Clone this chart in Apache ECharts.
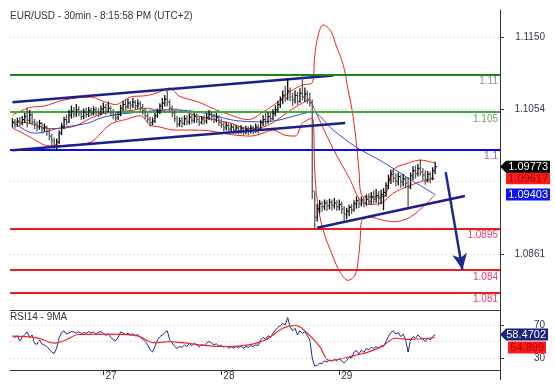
<!DOCTYPE html>
<html><head><meta charset="utf-8">
<script src="https://cdn.jsdelivr.net/npm/echarts@6/dist/echarts.min.js"></script>
<style>html,body{margin:0;padding:0;background:#fff}#c{width:555px;height:384px}</style>
</head><body><div id="c"></div>
<script>
// ---- data (30-min bars, index 0..172) ----
const closeP=[1.1036,1.1033,1.1038,1.1035,1.1040,1.1044,1.1039,1.1046,1.1037,1.1034,
1.1030,1.1035,1.1028,1.1030,1.1024,1.1018,1.1012,1.1006,1.1010,1.1022,
1.1031,1.1040,1.1037,1.1046,1.1051,1.1047,1.1053,1.1049,1.1044,1.1050,
1.1047,1.1052,1.1048,1.1053,1.1050,1.1048,1.1054,1.1056,1.1051,1.1055,
1.1049,1.1046,1.1042,1.1047,1.1055,1.1060,1.1057,1.1062,1.1059,1.1063,
1.1058,1.1061,1.1056,1.1052,1.1045,1.1040,1.1036,1.1038,1.1045,1.1050,
1.1058,1.1062,1.1067,1.1063,1.1055,1.1049,1.1041,1.1034,1.1038,1.1035,
1.1041,1.1037,1.1043,1.1039,1.1044,1.1040,1.1036,1.1041,1.1038,1.1043,
1.1047,1.1044,1.1040,1.1043,1.1036,1.1033,1.1029,1.1032,1.1027,1.1030,
1.1026,1.1029,1.1025,1.1028,1.1024,1.1027,1.1025,1.1029,1.1026,1.1030,
1.1028,1.1036,1.1040,1.1037,1.1044,1.1041,1.1048,1.1053,1.1060,1.1066,
1.1072,1.1068,1.1078,1.1070,1.1066,1.1072,1.1064,1.1075,1.1070,1.1074,
1.1067,1.1062,1.0945,1.0910,1.0921,1.0928,1.0924,1.0929,1.0925,1.0930,
1.0926,1.0929,1.0924,1.0927,1.0921,1.0914,1.0918,1.0923,1.0920,1.0928,
1.0932,1.0928,1.0933,1.0929,1.0934,1.0931,1.0937,1.0934,1.0939,1.0935,
1.0940,1.0943,1.0952,1.0960,1.0967,1.0962,1.0958,1.0964,1.0957,1.0961,
1.0955,1.0950,1.0965,1.0972,1.0968,1.0975,1.0970,1.0966,1.0960,1.0967,
1.0962,1.0972,1.09773];
const highP=[1.1041,1.1040,1.1042,1.1043,1.1044,1.1048,1.1055,1.1052,1.1048,1.1040,
1.1037,1.1039,1.1036,1.1034,1.1031,1.1027,1.1020,1.1015,1.1014,1.1025,
1.1035,1.1043,1.1046,1.1052,1.1058,1.1056,1.1060,1.1057,1.1052,1.1054,
1.1055,1.1056,1.1055,1.1057,1.1056,1.1054,1.1058,1.1062,1.1060,1.1063,
1.1057,1.1053,1.1049,1.1050,1.1059,1.1064,1.1066,1.1067,1.1064,1.1068,
1.1065,1.1066,1.1064,1.1060,1.1055,1.1048,1.1043,1.1042,1.1048,1.1054,
1.1061,1.1068,1.1072,1.1080,1.1066,1.1058,1.1052,1.1044,1.1042,1.1043,
1.1045,1.1045,1.1047,1.1046,1.1048,1.1047,1.1044,1.1044,1.1045,1.1047,
1.1052,1.1050,1.1047,1.1048,1.1045,1.1040,1.1036,1.1036,1.1034,1.1034,
1.1033,1.1032,1.1031,1.1032,1.1030,1.1031,1.1030,1.1032,1.1031,1.1034,
1.1033,1.1039,1.1045,1.1048,1.1049,1.1050,1.1053,1.1058,1.1064,1.1070,
1.1078,1.1084,1.1094,1.1082,1.1075,1.1078,1.1076,1.1081,1.1097,1.1082,
1.1078,1.1075,1.1066,1.0944,1.0927,1.0932,1.0931,1.0933,1.0932,1.0934,
1.0933,1.0935,1.0932,1.0933,1.0930,1.0924,1.0922,1.0926,1.0927,1.0932,
1.0937,1.0935,1.0937,1.0936,1.0940,1.0941,1.0943,1.0945,1.0947,1.0944,
1.0946,1.0948,1.0956,1.0966,1.0973,1.0974,1.0968,1.0969,1.0966,1.0967,
1.0963,1.0963,1.0969,1.0977,1.0978,1.0980,1.0986,1.0975,1.0972,1.0971,
1.0970,1.0976,1.0983];
const lowP=[1.1030,1.1029,1.1031,1.1032,1.1033,1.1036,1.1030,1.1035,1.1033,1.1028,
1.1025,1.1027,1.1022,1.1024,1.1019,1.1013,1.1006,1.1001,1.0999,1.1008,
1.1020,1.1028,1.1033,1.1036,1.1042,1.1043,1.1044,1.1045,1.1040,1.1041,
1.1043,1.1044,1.1045,1.1046,1.1046,1.1044,1.1046,1.1049,1.1047,1.1050,
1.1045,1.1041,1.1038,1.1040,1.1045,1.1052,1.1053,1.1055,1.1054,1.1056,
1.1054,1.1055,1.1052,1.1047,1.1041,1.1036,1.1031,1.1033,1.1036,1.1043,
1.1048,1.1054,1.1058,1.1058,1.1051,1.1044,1.1037,1.1030,1.1031,1.1030,
1.1033,1.1033,1.1034,1.1035,1.1036,1.1036,1.1032,1.1034,1.1034,1.1035,
1.1040,1.1039,1.1036,1.1037,1.1032,1.1029,1.1025,1.1026,1.1023,1.1024,
1.1022,1.1022,1.1021,1.1022,1.1020,1.1021,1.1020,1.1022,1.1021,1.1023,
1.1022,1.1026,1.1032,1.1033,1.1035,1.1037,1.1040,1.1045,1.1050,1.1056,
1.1061,1.1064,1.1066,1.1065,1.1059,1.1062,1.1060,1.1063,1.1066,1.1064,
1.1062,1.1058,1.0935,1.0896,1.0905,1.0916,1.0918,1.0920,1.0919,1.0921,
1.0920,1.0922,1.0919,1.0920,1.0915,1.0906,1.0908,1.0912,1.0915,1.0918,
1.0922,1.0923,1.0925,1.0924,1.0926,1.0927,1.0928,1.0929,1.0930,1.0926,
1.0928,1.0920,1.0938,1.0948,1.0955,1.0957,1.0952,1.0953,1.0950,1.0952,
1.0949,1.0925,1.0948,1.0960,1.0962,1.0965,1.0966,1.0959,1.0954,1.0957,
1.0956,1.0960,1.0968];
// Bollinger bands and moving average: [bar index, price]
const bbUpper=[[0,1.1046],[7,1.1056],[13,1.1058],[21,1.1066],[32,1.1070],[37,1.1064],[42,1.1060],[48,1.1070],[55,1.1072],[60,1.1077],[64,1.1082],[68,1.1071],[76,1.1063],[82,1.1054],[87,1.1048],[96,1.1040],[102,1.1050],[107,1.1061],[113,1.1077],[118,1.1086],[122,1.1089],[123,1.1125],[124.4,1.1152],[126.4,1.1166],[129.3,1.1159],[132.1,1.1135],[134.6,1.1113],[136.6,1.1079],[138.2,1.1053],[139.8,1.1013],[141,1.0973],[142,1.0940],[145.5,1.0937],[150.8,1.0937],[155,1.0973],[162,1.0983],[166,1.0986],[171,1.0983],[172,1.0982]];
const bbMid=[[0,1.1037],[7,1.1035],[15,1.1028],[24,1.1030],[32,1.1042],[37,1.1048],[42,1.1050],[48,1.1052],[55,1.1055],[60,1.1052],[66,1.1054],[72,1.1048],[80,1.1041],[88,1.1036],[96,1.1028],[102,1.1030],[107,1.1038],[112,1.1050],[117,1.1060],[121,1.1066],[122,1.1060],[130.5,1.1001],[137.4,1.0960],[141,1.0935],[145,1.0927],[150,1.0929],[155,1.0942],[160,1.0950],[165,1.0956],[172,1.09617]];
const bbLower=[[0,1.1029],[7,1.1017],[15,1.1005],[24,1.1006],[32,1.1010],[36,1.1022],[40,1.1034],[46,1.1040],[52,1.1045],[56,1.1033],[60,1.1030],[66,1.1026],[72,1.1026],[80,1.1025],[89,1.1020],[97,1.1018],[102,1.1022],[106,1.1026],[111,1.1019],[115,1.1018],[118,1.1035],[122,1.1042],[123,1.0973],[124,1.0933],[126.4,1.0893],[130.5,1.0857],[133.3,1.0837],[136.6,1.0826],[139.4,1.0833],[140.7,1.0853],[141.5,1.0880],[142,1.0904],[145.5,1.0910],[150.8,1.0906],[155,1.0904],[161.8,1.0910],[168.7,1.0929],[172,1.0940]];
const maLine=[[0,1.1037],[7,1.1023],[10,1.1022],[19.5,1.1029],[30.5,1.1035],[36,1.1042],[41,1.1046],[52,1.1050],[63,1.1053],[76,1.1050],[90,1.1039],[101,1.1037],[108,1.1039],[115,1.1045],[122,1.1050],[130.5,1.1026],[140,1.1003],[151,1.0983],[162,1.0960],[172,1.09403]];
// RSI(14) per bar and its 9-period MA
const rsi=[56.7,55.0,57.0,50.6,55.0,58.5,61.7,55.0,58.0,48.0,
46.5,52.0,47.0,45.6,44.0,40.5,37.3,35.5,42.0,54.5,
61.0,63.0,59.0,60.5,62.0,61.7,60.0,62.0,59.5,61.0,
60.0,62.0,60.5,61.5,59.0,61.0,62.0,60.0,57.5,59.0,
55.0,52.3,51.0,55.0,61.7,60.0,58.5,60.0,58.0,59.5,
57.0,58.5,55.0,53.0,50.0,45.8,40.0,37.3,44.0,52.0,
56.0,58.0,61.0,63.0,52.0,48.0,44.0,41.6,44.0,43.0,
46.0,44.0,47.5,45.0,48.0,46.0,43.5,46.5,45.0,48.0,
50.0,48.5,46.0,47.5,44.0,45.5,43.0,44.5,42.0,43.5,
42.0,44.0,42.5,44.0,42.0,44.0,43.0,45.0,44.0,46.0,
45.0,52.0,55.0,53.0,57.0,55.0,60.0,64.0,67.0,69.5,
72.0,70.0,79.0,68.0,63.0,66.0,58.0,63.0,60.0,62.0,
57.0,52.0,30.0,20.3,21.0,24.0,23.0,26.6,25.0,27.5,
26.0,28.5,27.0,29.0,26.6,24.0,27.0,31.0,30.0,37.3,
39.0,35.0,39.5,37.0,41.6,40.0,43.0,41.6,44.0,42.0,
45.0,43.8,50.0,56.0,61.0,63.0,59.0,61.0,56.0,59.0,
52.0,37.3,52.0,56.0,54.0,58.0,55.0,53.0,50.0,54.0,
52.0,56.0,58.4702];
const rsiMA=[[0,56.5],[10,54.5],[17,48],[21,51],[27,58.5],[38,59],[50,57.5],[58,48.5],[64,50],[76,46],[87,44],[96,46],[103,52],[110,66],[115,69.5],[120,60],[125,44],[129,27],[133,28.5],[139,33],[145,37.5],[150,43.5],[156,54],[162,52.5],[167,53.5],[172,54.899]];
// drawn support/resistance levels and trend lines
const levelValues=[1.11,1.105,1.1,1.0895,1.084,1.081];
const levelLabels=['1.11','1.105','1.1','1.0895','1.084','1.081'];
const channelUp=[[0,1.1063],[130.5,1.10985]];
const channelLow=[[0,1.0999],[135.4,1.10354]];
const triSupport=[[124,1.0896],[184.1,1.09382]];
const arrowPath=[[176.3,1.0970],[183.1,1.0840]];
// axes
const priceTicks=[1.1150,1.1054,1.0861];
const priceGrid=[1.1150,1.1054,1.0958,1.0861];
const rsiTicks=[70,30];
const rsiGrid=[70,50,30];
const dayIdx=[37,85,133];
const dayLabels=['27','28','29'];
const titleText='EUR/USD - 30min - 8:15:58 PM (UTC+2)';
const rsiTitle='RSI14 - 9MA';

// ---- chart ----
const FONT='"Liberation Sans", Arial, sans-serif';
const chart=echarts.init(document.getElementById('c'),null,{renderer:'canvas'});
const barData=closeP.map((c,i)=>[i,highP[i],lowP[i],c,(i===0||c>=closeP[i-1])?1:0]);
const levelLine=['#17871a','#3aac3a','#0b0bef','#f01c1c','#f01c1c','#f01c1c'];
const levelText=['#8a928a','#6b9d6b','#8a62c8','#e2406e','#e2406e','#e2406e'];
const NAVY='#1b1f8a';
const dotted={type:[1,3],color:'#bdbdbd',width:1};

const option={
  animation:false,
  textStyle:{fontFamily:FONT},
  grid:[{left:10,right:55,top:10,height:300},{left:10,right:55,top:310,height:60}],
  xAxis:[
    {type:'value',gridIndex:0,min:-1,max:198.4,axisLine:{show:true,onZero:false,lineStyle:{color:'#333',width:1}},
     axisTick:{show:false},axisLabel:{show:false},splitLine:{show:false}},
    {type:'value',gridIndex:1,min:-1,max:198.4,axisLine:{show:true,onZero:false,lineStyle:{color:'#333',width:1}},
     axisTick:{show:true,customValues:dayIdx,length:5,lineStyle:{color:'#333'}},
     axisLabel:{show:true,customValues:dayIdx,formatter:v=>{const k=dayIdx.indexOf(v);return k>=0?dayLabels[k]:'';},
       align:'left',margin:1,padding:[0,0,0,2],fontSize:10,color:'#333',fontFamily:FONT},
     splitLine:{show:false}}
  ],
  yAxis:[
    {type:'value',gridIndex:0,position:'right',min:1.07865,max:1.11858,
     axisLine:{show:true,onZero:false,lineStyle:{color:'#333',width:1}},
     axisTick:{show:true,customValues:priceTicks,length:4,lineStyle:{color:'#333'}},
     axisLabel:{show:true,customValues:priceTicks,formatter:v=>v.toFixed(4),align:'right',margin:45,fontSize:10,color:'#3a3550',fontFamily:FONT},
     splitLine:{show:false}},
    {type:'value',gridIndex:1,position:'right',min:15.5,max:88.2,
     axisLine:{show:true,onZero:false,lineStyle:{color:'#333',width:1}},
     axisTick:{show:true,customValues:rsiTicks,length:4,lineStyle:{color:'#333'}},
     axisLabel:{show:true,customValues:rsiTicks,align:'right',margin:45,fontSize:10,color:'#3a3550',fontFamily:FONT},
     splitLine:{show:false}}
  ],
  series:[
    {type:'line',xAxisIndex:0,yAxisIndex:0,data:bbUpper,symbol:'none',smooth:0.35,lineStyle:{color:'#e8231f',width:1},z:2,
     markLine:{silent:true,precision:6,symbol:'none',label:{show:false},lineStyle:dotted,data:priceGrid.map(v=>({yAxis:v}))}},
    {type:'line',xAxisIndex:0,yAxisIndex:0,data:bbMid,symbol:'none',smooth:0.35,lineStyle:{color:'#e8231f',width:1},z:2},
    {type:'line',xAxisIndex:0,yAxisIndex:0,data:bbLower,symbol:'none',smooth:0.35,lineStyle:{color:'#e8231f',width:1},z:2},
    {type:'line',xAxisIndex:0,yAxisIndex:0,data:maLine,symbol:'none',smooth:0.3,lineStyle:{color:'#3548d8',width:1},z:2},
    {type:'line',xAxisIndex:0,yAxisIndex:0,data:channelUp,symbol:'none',lineStyle:{color:NAVY,width:2.5},z:4,
     markLine:{silent:true,precision:6,symbol:'none',
       data:levelValues.map((v,k)=>({yAxis:v,lineStyle:{color:levelLine[k],width:2,type:'solid'},
         label:{show:true,position:'insideEndBottom',distance:[2,2],formatter:levelLabels[k],color:levelText[k],fontSize:10,fontFamily:FONT}}))}},
    {type:'custom',xAxisIndex:0,yAxisIndex:0,data:barData,z:5,
     renderItem:(params,api)=>{
       const i=api.value(0);
       const ph=api.coord([i,api.value(1)]),pl=api.coord([i,api.value(2)]),pc=api.coord([i,api.value(3)]);
       const col=api.value(4)?'#0a0a0a':'#585858';
       return {type:'group',children:[
         {type:'line',shape:{x1:ph[0],y1:ph[1]-0.5,x2:pl[0],y2:pl[1]+0.5},style:{stroke:col,lineWidth:1.3}},
         {type:'line',shape:{x1:pc[0],y1:pc[1],x2:pc[0]+1.8,y2:pc[1]},style:{stroke:col,lineWidth:1.2}}
       ]};
     }},
    {type:'line',xAxisIndex:0,yAxisIndex:0,data:channelLow,symbol:'none',lineStyle:{color:NAVY,width:2.5},z:6},
    {type:'line',xAxisIndex:0,yAxisIndex:0,data:triSupport,symbol:'none',lineStyle:{color:NAVY,width:2.5},z:6,
     markLine:{silent:true,precision:6,symbol:['none','arrow'],symbolSize:[11,16],label:{show:false},
       lineStyle:{color:'#1c2a8c',width:2.5,type:'solid'},
       data:[[{coord:arrowPath[0]},{coord:arrowPath[1]}]]}},
    {type:'line',xAxisIndex:1,yAxisIndex:1,data:rsi.map((v,i)=>[i,v]),symbol:'none',lineStyle:{color:'#1e2a8e',width:1},z:3,
     markLine:{silent:true,precision:4,symbol:'none',label:{show:false},lineStyle:dotted,data:rsiGrid.map(v=>({yAxis:v}))}},
    {type:'line',xAxisIndex:1,yAxisIndex:1,data:rsiMA,symbol:'none',smooth:0.4,lineStyle:{color:'#f02222',width:1.2},z:4}
  ]
};
chart.setOption(option);

function txt(x,y,s,fill,size,align){
  return {type:'text',x:x,y:y,style:{text:s,fill:fill,font:size+'px '+FONT,align:align||'left',verticalAlign:'middle',textAlign:align||'left',textVerticalAlign:'middle'},z:100};
}
function tag(yc,bg,fg,s,arrow,x0,x1){
  const h=12,els=[];
  if(arrow) els.push({type:'polygon',shape:{points:[[500,yc],[x0,yc-h/2],[x0,yc+h/2]]},style:{fill:bg},z:99});
  els.push({type:'rect',shape:{x:x0,y:yc-h/2,width:x1-x0,height:h},style:{fill:bg},z:99});
  els.push(txt(x1-2,yc+0.5,s,fg,11,'right'));
  return els;
}
const py=v=>chart.convertToPixel({yAxisIndex:0},v);
const ry=v=>chart.convertToPixel({yAxisIndex:1},v);
const lastClose=closeP[closeP.length-1], lastMid=bbMid[bbMid.length-1][1], lastMA=maLine[maLine.length-1][1];
const lastRsi=rsi[rsi.length-1], lastRsiMA=rsiMA[rsiMA.length-1][1];
const yR=ry(lastRsi), yRM=Math.max(ry(lastRsiMA),yR+13);
const graphics=[
  txt(10,16.5,titleText,'#333',10,'left'),
  txt(10,317.5,rsiTitle,'#333',10,'left'),
  {type:'line',shape:{x1:500.5,y1:370,x2:500.5,y2:380},style:{stroke:'#333',lineWidth:1}},
  ...tag(py(lastMid),'#ff1a1a','#9a0c0c',lastMid.toFixed(5),false,506,550),
  ...tag(py(lastMA),'#0a14f0','#ffffff',lastMA.toFixed(5),false,506,550),
  ...tag(py(lastClose),'#000000','#ffffff',lastClose.toFixed(5),true,506,550),
  ...tag(yRM,'#ff1a1a','#9a0c0c',String(lastRsiMA),false,508,546),
  ...tag(yR,'#1a237e','#ffffff',String(lastRsi),true,506,548)
];
chart.setOption({graphic:{elements:graphics}});
</script></body></html>
